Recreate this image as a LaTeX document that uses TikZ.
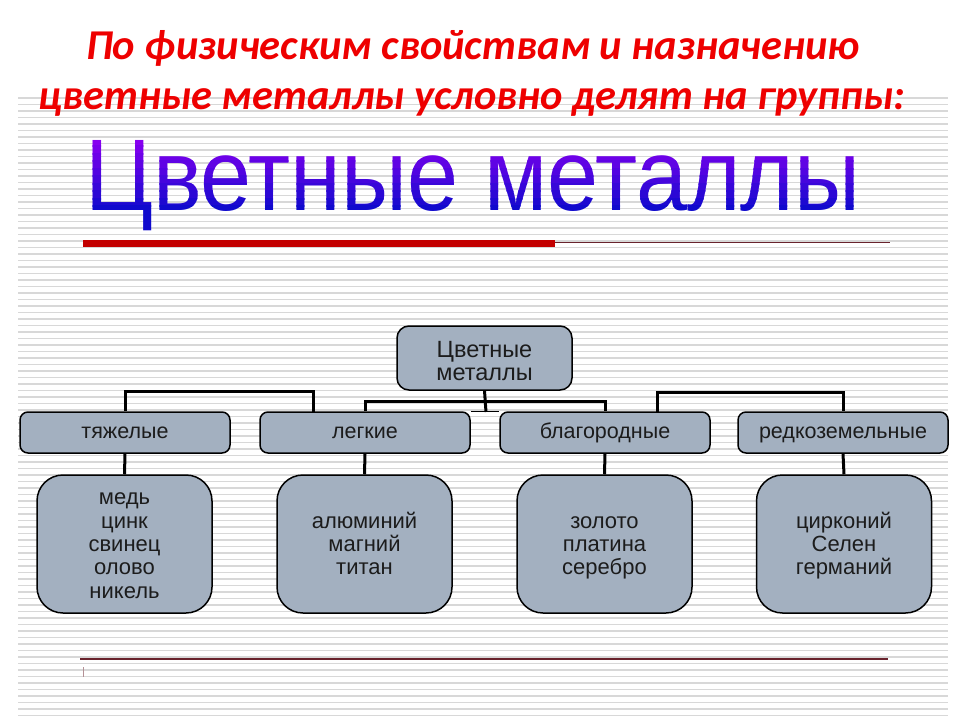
\documentclass[tikz,border=0pt]{standalone}
\usepackage{fontspec}
\setmainfont{Liberation Sans}
\newfontfamily\titlefont{Carlito}
\definecolor{boxfill}{RGB}{163,176,192}
\definecolor{stripe}{RGB}{216,216,216}
\definecolor{titlered}{RGB}{238,0,0}
\definecolor{barred}{RGB}{195,0,0}
\definecolor{maroonc}{RGB}{105,35,45}
\definecolor{txt}{RGB}{28,28,28}
\definecolor{purp}{RGB}{135,0,240}
\definecolor{blu}{RGB}{15,10,205}
\newcommand{\bigword}{\resizebox{775pt}{70pt}{Цветные металлы}}
\newcommand{\lstrut}{\rule[-5pt]{0pt}{25pt}}
\newcommand{\rstrutA}{\rule{0pt}{26pt}}
\newcommand{\rstrutB}{\rule[-5pt]{0pt}{5pt}}
\begin{document}
\begin{tikzpicture}[x=1pt,y=-1pt,
  rootbox/.style={draw=black, line width=1.5pt, fill=boxfill, rounded corners=12pt,
    minimum width=175pt, minimum height=64pt, inner sep=0pt, align=center,
    font=\fontsize{23.5}{23}\selectfont, text=txt},
  catbox/.style={draw=black, line width=1.5pt, fill=boxfill, rounded corners=8pt,
    minimum width=210pt, minimum height=41pt, inner sep=0pt,
    text height=16pt, text depth=4pt,
    font=\fontsize{21.5}{22}\selectfont, text=txt},
  listbox/.style={draw=black, line width=1.5pt, fill=boxfill, rounded corners=26pt,
    minimum width=175pt, minimum height=138pt, inner sep=0pt, align=center,
    font=\fontsize{22}{23.3}\selectfont, text=txt},
  conn/.style={draw=black, line width=3pt},
  titletext/.style={font=\titlefont\bfseries\itshape\fontsize{42.5}{50}\selectfont, text=titlered, anchor=base, inner sep=0pt}
]
\useasboundingbox[fill=white] (0,0) rectangle (960,720);
% background stripes
\foreach \k in {0,...,95} {
  \draw[stripe, line width=1.8pt] (18,98+6.5*\k) -- (948,98+6.5*\k);
}
% title
\node[titletext] (t1) at (473,59) {По физическим свойствам и назначению};
\node[titletext] (t2) at (472,109) {цветные металлы условно делят на группы:};
% big heading with vertical purple-to-blue gradient (clipped bands)
\foreach \i in {0,...,9} {
  \pgfmathtruncatemacro\p{100-\i*11}
  \pgfmathsetmacro\ya{\i==0 ? 125 : 138+7.5*\i}
  \pgfmathsetmacro\yb{\i==9 ? 245 : 139+7.5*(\i+1)}
  \begin{scope}
    \clip (60,\ya) rectangle (900,\yb);
    \node[anchor=base west, inner sep=0pt, text=purp!\p!blu] (big\i) at (85,210) {\bigword};
  \end{scope}
}
% rules
\draw[barred, line width=7pt] (83,243) -- (555,243);
\draw[maroonc, line width=1pt] (555,242) -- (890,242);
\draw[maroonc, line width=2.5pt] (80,659) -- (888,659);
\draw[maroonc!50, line width=1pt] (83,667) -- (83,677);
% diagram
\node[rootbox] (r) at (484.5,358) {\rstrutA Цветные\\металлы\rstrutB};
\node[catbox] (a) at (125,432.5) {тяжелые};
\node[catbox] (b) at (365,432.5) {легкие};
\node[catbox] (c) at (605,432.5) {благородные};
\node[catbox] (d) at (843,432.5) {редкоземельные};
\node[listbox] (a2) at (124.5,544) {\lstrut медь\\цинк\\свинец\\олово\\никель\lstrut};
\node[listbox] (b2) at (364.5,544) {\lstrut алюминий\\магний\\титан\lstrut};
\node[listbox] (c2) at (604.5,544) {\lstrut золото\\платина\\серебро\lstrut};
\node[listbox] (d2) at (844,544) {\lstrut цирконий\\Селен\\германий\lstrut};
\coordinate (j) at (486,412);
\coordinate (b1) at (313,412);
\coordinate (c1) at (657,412);
\draw[conn] (a.north) -- ++(0,-20) -| (b1);
\draw[conn] (b.north) -- ++(0,-10) -| (c.north);
\draw[conn] (c1) -- ++(0,-20) -| (d.north);
\draw[conn] (r.south) -- (j);
\draw[black, line width=1.5pt] (b.north east) -- (c.north west);
\draw[conn] (a.south) -- (a2.north);
\draw[conn] (b.south) -- (b2.north);
\draw[conn] (c.south) -- (c2.north);
\draw[conn] (d.south) -- (d2.north);
\end{tikzpicture}
\end{document}
